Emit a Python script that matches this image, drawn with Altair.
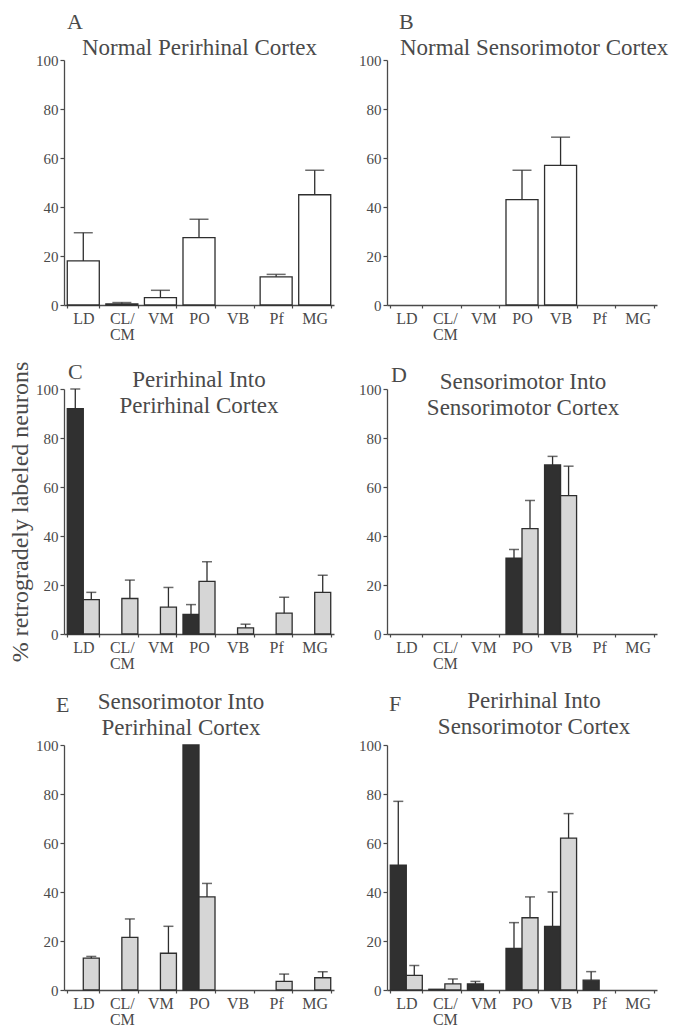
import altair as alt
import pandas as pd

cats = ["LD", "CL/CM", "VM", "PO", "VB", "Pf", "MG"]

# A: Normal Perirhinal Cortex
a_white = [18, 0.5, 3, 27.5, None, 11.5, 45]
a_white_err = [29.5, 1, 6, 35, None, 12.5, 55]

# B: Normal Sensorimotor Cortex
b_white = [None, None, None, 43, 57, None, None]
b_white_err = [None, None, None, 55, 68.5, None, None]

# C: Perirhinal Into Perirhinal Cortex
c_dark = [92, None, None, 8, None, None, None]
c_dark_err = [100, None, None, 12, None, None, None]
c_light = [14, 14.5, 11, 21.5, 2.5, 8.5, 17]
c_light_err = [17, 22, 19, 29.5, 4, 15, 24]

# D: Sensorimotor Into Sensorimotor Cortex
d_dark = [None, None, None, 31, 69, None, None]
d_dark_err = [None, None, None, 34.5, 72.5, None, None]
d_light = [None, None, None, 43, 56.5, None, None]
d_light_err = [None, None, None, 54.5, 68.5, None, None]

# E: Sensorimotor Into Perirhinal Cortex
e_dark = [None, None, None, 100, None, None, None]
e_dark_err = [None, None, None, None, None, None, None]
e_light = [13, 21.5, 15, 38, None, 3.5, 5]
e_light_err = [13.7, 29, 26, 43.5, None, 6.5, 7.5]

# F: Perirhinal Into Sensorimotor Cortex
f_dark = [51, 0.3, 2.5, 17, 26, 4, None]
f_dark_err = [77, None, 3.5, 27.5, 40, 7.5, None]
f_light = [6, 2.5, None, 29.5, 62, None, None]
f_light_err = [10, 4.5, None, 38, 72, None, None]

FONT = "Liberation Serif"
TXT = "#4a4a4a"
INK = "#2e2e2e"


def make_df(series):
    rows = []
    for name, (vals, errs) in series.items():
        for c, v, e in zip(cats, vals, errs):
            if v is None:
                continue
            rows.append({"cat": c, "series": name, "value": v, "upper": e})
    return pd.DataFrame(rows)


def panel(df, grouped, letter, lxy, title, txy, talign, ytitle=None, cap=10):
    xscale = alt.Scale(domain=cats, paddingInner=0.17, paddingOuter=0.085)
    xaxis = alt.Axis(
        title=None, labelAngle=0,
        labelExpr="datum.label == 'CL/CM' ? ['CL/', 'CM'] : datum.label",
        tickBand="extent", tickSize=3, labelFontSize=16, labelPadding=2,
        labelLineHeight=16, labelBaseline="top",
    )
    yaxis = alt.Axis(
        title=ytitle, values=[0, 20, 40, 60, 80, 100], grid=False,
        tickSize=4, labelFontSize=15, labelPadding=2,
        titleFontSize=24, titlePadding=3, titleFontWeight="normal",
    )
    x = alt.X("cat:N", scale=xscale, axis=xaxis)
    y = alt.Y("value:Q", scale=alt.Scale(domain=[0, 100], nice=False), axis=yaxis)
    fill = alt.Fill(
        "series:N",
        scale=alt.Scale(domain=["dark", "light", "white"], range=["#303030", "#d6d6d6", "#ffffff"]),
        legend=None,
    )
    enc = dict(x=x)
    if grouped:
        enc["xOffset"] = alt.XOffset(
            "series:N", scale=alt.Scale(domain=["dark", "light"], paddingInner=0, paddingOuter=0)
        )
    base = alt.Chart(df)
    bars = base.mark_bar(stroke=INK, strokeWidth=1.3).encode(y=y, fill=fill, **enc)
    errdf = base.transform_filter("isValid(datum.upper)")
    rules = errdf.mark_rule(color=INK, strokeWidth=1.3).encode(y="value:Q", y2="upper:Q", **enc)
    caps = errdf.mark_tick(color=INK, thickness=1.5, size=cap, orient="horizontal").encode(
        y="upper:Q", **enc
    )
    let = alt.Chart(pd.DataFrame({"t": [letter]})).mark_text(
        align="left", baseline="alphabetic", font=FONT, fontSize=22, color=TXT
    ).encode(text="t:N", x=alt.value(lxy[0]), y=alt.value(lxy[1]))
    tit = alt.Chart(pd.DataFrame({"t": [title]})).mark_text(
        align=talign, baseline="alphabetic", font=FONT, fontSize=23, color=TXT,
        lineBreak="\n", lineHeight=26,
    ).encode(text="t:N", x=alt.value(txy[0]), y=alt.value(txy[1]))
    return alt.layer(bars, rules, caps, let, tit).properties(width=270, height=245)


pA = panel(make_df({"white": (a_white, a_white_err)}), False, "A", (3, -31),
           "Normal Perirhinal Cortex", (18, -5), "left", cap=19)
pB = panel(make_df({"white": (b_white, b_white_err)}), False, "B", (12, -31),
           "Normal Sensorimotor Cortex", (13, -5), "left", cap=19)
pC = panel(make_df({"dark": (c_dark, c_dark_err), "light": (c_light, c_light_err)}), True, "C",
           (4, -10), "Perirhinal Into\nPerirhinal Cortex", (135, -2), "center",
           ytitle="% retrogradely labeled neurons")
pD = panel(make_df({"dark": (d_dark, d_dark_err), "light": (d_light, d_light_err)}), True, "D",
           (4, -7), "Sensorimotor Into\nSensorimotor Cortex", (136, 0), "center")
pE = panel(make_df({"dark": (e_dark, e_dark_err), "light": (e_light, e_light_err)}), True, "E",
           (-8, -33), "Sensorimotor Into\nPerirhinal Cortex", (117, -36), "center")
pF = panel(make_df({"dark": (f_dark, f_dark_err), "light": (f_light, f_light_err)}), True, "F",
           (2, -34), "Perirhinal Into\nSensorimotor Cortex", (147, -37), "center")

chart = alt.concat(pA, pB, pC, pD, pE, pF, columns=2, spacing={"row": 19, "column": 24}).properties(
    padding={"left": 0, "top": 3, "right": 0, "bottom": 0}
).configure_view(stroke=None).configure_axis(
    labelFont=FONT, labelColor=TXT, titleFont=FONT, titleColor=TXT,
    domainColor=TXT, tickColor=TXT, domainWidth=1.3, tickWidth=1.2,
)

chart.save("out.html", embed_options={"renderer": "svg", "actions": False})
